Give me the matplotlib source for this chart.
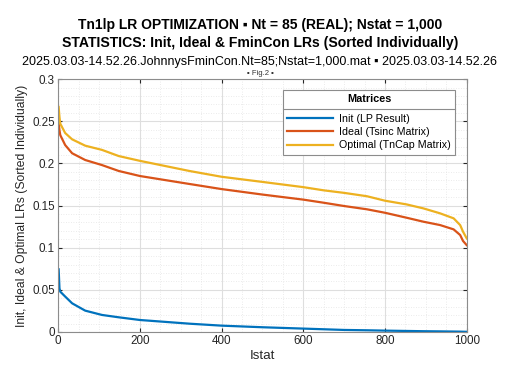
import matplotlib
matplotlib.use("Agg")
import matplotlib.pyplot as plt
from matplotlib.ticker import MultipleLocator
from matplotlib.lines import Line2D

plt.rcParams['font.family'] = ['Liberation Sans', 'DejaVu Sans']

# ---- data ----
istat = [1, 3, 5, 17, 34, 66, 107, 148, 200, 322, 400, 500, 600, 650, 700,
         756, 800, 853, 894, 935, 968, 984, 991, 1000]
init_lr = [0.0743, 0.0518, 0.0478, 0.042, 0.034, 0.0253, 0.0202, 0.0174, 0.0142,
           0.0098, 0.0075, 0.0056, 0.004, 0.0032, 0.0024, 0.002, 0.0016, 0.0012,
           0.0009, 0.0007, 0.0005, 0.0004, 0.0003, 0.0002]
ideal_lr = [0.248, 0.2395, 0.2335, 0.2217, 0.212, 0.204, 0.198, 0.191, 0.185,
            0.1755, 0.1695, 0.163, 0.157, 0.1533, 0.1494, 0.1455, 0.1414, 0.1355,
            0.1308, 0.1268, 0.1217, 0.115, 0.108, 0.103]
optimal_lr = [0.267, 0.255, 0.247, 0.236, 0.2285, 0.221, 0.216, 0.2087, 0.203,
              0.1909, 0.1841, 0.178, 0.1718, 0.168, 0.165, 0.161, 0.1557, 0.1513,
              0.1466, 0.1407, 0.1348, 0.1268, 0.119, 0.111]
labels = ["Init (LP Result)", "Ideal (Tsinc Matrix)", "Optimal (TnCap Matrix)"]
colors = ["#0072BD", "#D95319", "#EDB120"]
xticks = [0, 200, 400, 600, 800, 1000]
yticks = [0, 0.05, 0.1, 0.15, 0.2, 0.25, 0.3]
ytick_labels = ["0", "0.05", "0.1", "0.15", "0.2", "0.25", "0.3"]

fig = plt.figure(figsize=(5.2, 3.73), dpi=100)
ax = fig.add_axes([0.112, 0.110, 0.7855, 0.678])

for ys, lab, c in zip([init_lr, ideal_lr, optimal_lr], labels, colors):
    ax.plot(istat, ys, color=c, lw=1.6, label=lab)

ax.set_xlim(0, 1000)
ax.set_ylim(0, 0.3)
ax.set_xticks(xticks)
ax.set_yticks(yticks)
ax.set_yticklabels(ytick_labels)
ax.xaxis.set_minor_locator(MultipleLocator(50))
ax.yaxis.set_minor_locator(MultipleLocator(0.01))
ax.grid(which='major', color='#DEDEDE', lw=0.8, ls='-')
ax.grid(which='minor', color='#E4E4E4', lw=0.6, ls=(0, (1, 2)))
ax.set_axisbelow(True)
ax.tick_params(which='major', direction='in', length=3, labelsize=8.4,
               colors='#262626', top=True, right=True, pad=2.5)
ax.tick_params(which='minor', length=0)
for s in ax.spines.values():
    s.set_color('#8C8C8C')
    s.set_linewidth(0.8)

ax.set_xlabel("Istat", fontsize=9.6, color='#262626', labelpad=2)
ax.set_ylabel("Init, Ideal & Optimal LRs (Sorted Individually)", fontsize=8.7,
              color='#262626', labelpad=3)

fig.text(0.5, 0.934, "Tn1lp LR OPTIMIZATION \u25aa Nt = 85 (REAL); Nstat = 1,000",
         ha='center', va='center', fontsize=10.0, fontweight='bold')
fig.text(0.5, 0.884, "STATISTICS: Init, Ideal & FminCon LRs (Sorted Individually)",
         ha='center', va='center', fontsize=10.1, fontweight='bold')
fig.text(0.5, 0.834, "2025.03.03-14.52.26.JohnnysFminCon.Nt=85;Nstat=1,000.mat \u25aa 2025.03.03-14.52.26",
         ha='center', va='center', fontsize=9.0)
fig.text(0.5, 0.803, "\u25aa Fig.2 \u25aa", ha='center', va='center', fontsize=5.5,
         color='#333333')

leg = ax.legend(loc='upper right', bbox_to_anchor=(0.971, 0.957), borderaxespad=0,
                title="Matrices", fontsize=7.7, handlelength=4.3, handletextpad=0.5,
                labelspacing=0.3, borderpad=0.4, fancybox=False, framealpha=1,
                edgecolor='#8C8C8C', title_fontsize=7.8)
leg.get_title().set_fontweight('bold')
leg._legend_box.sep = 7
leg.get_frame().set_linewidth(0.8)
for h in leg.get_lines():
    h.set_linewidth(1.6)

fig.canvas.draw()
inv = ax.transAxes.inverted()
bb = leg.get_window_extent().transformed(inv)
tb = leg.get_title().get_window_extent().transformed(inv)
t0 = leg.get_texts()[0].get_window_extent().transformed(inv)
ysep = 0.5 * (tb.y0 + t0.y1)
ax.add_line(Line2D([bb.x0, bb.x1], [ysep, ysep], transform=ax.transAxes,
                   color='#8C8C8C', lw=0.8, zorder=10))

fig.savefig("out.png", dpi=100)
